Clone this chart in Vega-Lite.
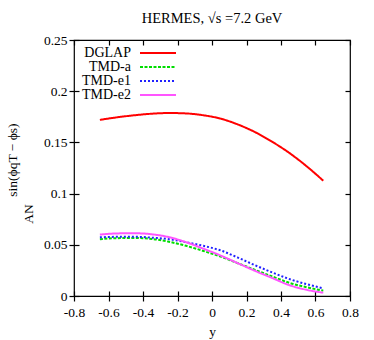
{
  "$schema": "https://vega.github.io/schema/vega-lite/v6.json",
  "width": 276,
  "height": 256,
  "autosize": {"type": "none"},
  "padding": {"left": 74, "top": 40, "right": 24, "bottom": 44},
  "background": "white",
  "config": {
    "font": "Liberation Serif",
    "view": {"stroke": "black", "strokeWidth": 1.2},
    "axis": {"labelFont": "Liberation Serif", "titleFont": "Liberation Serif", "labelFontSize": 13.5, "titleFontSize": 13.5, "labelColor": "black", "titleColor": "black", "titleFontWeight": "normal", "grid": false, "domain": false, "tickColor": "black", "tickSize": 5, "tickWidth": 1.2, "labelFlush": false}
  },
  "title": {"text": "HERMES, √s =7.2 GeV", "font": "Liberation Serif", "fontSize": 14.5, "fontWeight": "normal", "color": "black", "offset": 7},
  "data": {"values": [
    {"series": "DGLAP", "y": -0.65, "A": 0.172},
    {"series": "DGLAP", "y": -0.55, "A": 0.1745},
    {"series": "DGLAP", "y": -0.45, "A": 0.1765},
    {"series": "DGLAP", "y": -0.35, "A": 0.178},
    {"series": "DGLAP", "y": -0.25, "A": 0.1787},
    {"series": "DGLAP", "y": -0.15, "A": 0.1783},
    {"series": "DGLAP", "y": -0.05, "A": 0.1765},
    {"series": "DGLAP", "y": 0.05, "A": 0.1732},
    {"series": "DGLAP", "y": 0.15, "A": 0.1675},
    {"series": "DGLAP", "y": 0.25, "A": 0.16},
    {"series": "DGLAP", "y": 0.35, "A": 0.1505},
    {"series": "DGLAP", "y": 0.45, "A": 0.1395},
    {"series": "DGLAP", "y": 0.55, "A": 0.1265},
    {"series": "DGLAP", "y": 0.645, "A": 0.1126},
    {"series": "TMD-a", "y": -0.65, "A": 0.0555},
    {"series": "TMD-a", "y": -0.55, "A": 0.0565},
    {"series": "TMD-a", "y": -0.45, "A": 0.0567},
    {"series": "TMD-a", "y": -0.35, "A": 0.0557},
    {"series": "TMD-a", "y": -0.25, "A": 0.053},
    {"series": "TMD-a", "y": -0.15, "A": 0.049},
    {"series": "TMD-a", "y": -0.05, "A": 0.044},
    {"series": "TMD-a", "y": 0.05, "A": 0.0385},
    {"series": "TMD-a", "y": 0.15, "A": 0.032},
    {"series": "TMD-a", "y": 0.25, "A": 0.0255},
    {"series": "TMD-a", "y": 0.35, "A": 0.019},
    {"series": "TMD-a", "y": 0.45, "A": 0.0128},
    {"series": "TMD-a", "y": 0.55, "A": 0.0085},
    {"series": "TMD-a", "y": 0.645, "A": 0.0052},
    {"series": "TMD-e1", "y": -0.65, "A": 0.0573},
    {"series": "TMD-e1", "y": -0.55, "A": 0.0578},
    {"series": "TMD-e1", "y": -0.45, "A": 0.0578},
    {"series": "TMD-e1", "y": -0.35, "A": 0.057},
    {"series": "TMD-e1", "y": -0.25, "A": 0.0555},
    {"series": "TMD-e1", "y": -0.15, "A": 0.0525},
    {"series": "TMD-e1", "y": -0.05, "A": 0.049},
    {"series": "TMD-e1", "y": 0.05, "A": 0.0445},
    {"series": "TMD-e1", "y": 0.15, "A": 0.0375},
    {"series": "TMD-e1", "y": 0.25, "A": 0.03},
    {"series": "TMD-e1", "y": 0.35, "A": 0.023},
    {"series": "TMD-e1", "y": 0.45, "A": 0.0165},
    {"series": "TMD-e1", "y": 0.55, "A": 0.0115},
    {"series": "TMD-e1", "y": 0.645, "A": 0.0075},
    {"series": "TMD-e2", "y": -0.65, "A": 0.06},
    {"series": "TMD-e2", "y": -0.55, "A": 0.0611},
    {"series": "TMD-e2", "y": -0.45, "A": 0.0613},
    {"series": "TMD-e2", "y": -0.35, "A": 0.0603},
    {"series": "TMD-e2", "y": -0.25, "A": 0.0575},
    {"series": "TMD-e2", "y": -0.15, "A": 0.0525},
    {"series": "TMD-e2", "y": -0.05, "A": 0.0462},
    {"series": "TMD-e2", "y": 0.05, "A": 0.0395},
    {"series": "TMD-e2", "y": 0.15, "A": 0.032},
    {"series": "TMD-e2", "y": 0.25, "A": 0.0245},
    {"series": "TMD-e2", "y": 0.35, "A": 0.0175},
    {"series": "TMD-e2", "y": 0.45, "A": 0.0105},
    {"series": "TMD-e2", "y": 0.55, "A": 0.006},
    {"series": "TMD-e2", "y": 0.645, "A": 0.0032}
  ]},
  "resolve": {"axis": {"x": "independent", "y": "independent"}},
  "layer": [
    {
      "mark": {"type": "line", "strokeWidth": 2, "interpolate": "monotone"},
      "encoding": {
        "x": {"field": "y", "type": "quantitative", "scale": {"domain": [-0.8, 0.8], "nice": false},
              "axis": {"orient": "bottom", "title": "y", "values": [-0.8, -0.6, -0.4, -0.2, 0, 0.2, 0.4, 0.6, 0.8], "labelExpr": "replace(format(datum.value, '~g'), '−', '-')", "labelPadding": 4, "titlePadding": 6}},
        "y": {"field": "A", "type": "quantitative", "scale": {"domain": [0, 0.25], "nice": false},
              "axis": {"orient": "left", "title": ["\u200b\u00a0\u00a0\u00a0\u00a0\u00a0sin(ϕqT − ϕs)", "AN\u00a0\u00a0\u00a0\u00a0\u00a0\u00a0\u00a0\u00a0\u00a0\u00a0\u00a0\u00a0\u00a0\u00a0\u00a0\u00a0\u00a0\u00a0\u00a0\u00a0\u00a0\u00a0\u00a0\u00a0\u00a0\u00a0\u00a0\u200b"], "values": [0, 0.05, 0.1, 0.15, 0.2, 0.25], "format": "~g", "labelPadding": 2, "titlePadding": 8}},
        "color": {"field": "series", "type": "nominal",
                  "scale": {"domain": ["DGLAP", "TMD-a", "TMD-e1", "TMD-e2"], "range": ["#ff0000", "#00dd00", "#2020ff", "#ff55ff"]},
                  "legend": {"title": null, "orient": "none", "legendX": 79, "legendY": 6, "symbolType": "M-6,0H6", "symbolSize": 36, "symbolStrokeWidth": 2, "symbolOffset": -2, "labelAlign": "right", "labelOffset": -34, "labelFontSize": 14, "labelFont": "Liberation Serif", "labelColor": "black", "rowPadding": -1.3}},
        "strokeDash": {"field": "series", "type": "nominal",
                  "scale": {"domain": ["DGLAP", "TMD-a", "TMD-e1", "TMD-e2"], "range": [[1, 0], [3, 1.5], [2, 2], [1, 0]]},
                  "legend": null}
      }
    },
    {
      "mark": {"type": "line", "opacity": 0},
      "encoding": {
        "x": {"field": "y", "type": "quantitative", "scale": {"domain": [-0.8, 0.8], "nice": false},
              "axis": {"orient": "top", "offset": -256, "title": null, "labels": false, "values": [-0.8, -0.6, -0.4, -0.2, 0, 0.2, 0.4, 0.6, 0.8]}},
        "y": {"field": "A", "type": "quantitative", "scale": {"domain": [0, 0.25], "nice": false},
              "axis": {"orient": "right", "offset": -276, "title": null, "labels": false, "values": [0, 0.05, 0.1, 0.15, 0.2, 0.25]}},
        "detail": {"field": "series"}
      }
    },
    {
      "mark": {"type": "line", "opacity": 0},
      "encoding": {
        "x": {"field": "y", "type": "quantitative", "scale": {"domain": [-0.8, 0.8], "nice": false},
              "axis": {"orient": "bottom", "offset": -256, "title": null, "labels": false, "values": [-0.8, -0.6, -0.4, -0.2, 0, 0.2, 0.4, 0.6, 0.8]}},
        "y": {"field": "A", "type": "quantitative", "scale": {"domain": [0, 0.25], "nice": false},
              "axis": {"orient": "left", "offset": -276, "title": null, "labels": false, "values": [0, 0.05, 0.1, 0.15, 0.2, 0.25]}},
        "detail": {"field": "series"}
      }
    }
  ]
}
